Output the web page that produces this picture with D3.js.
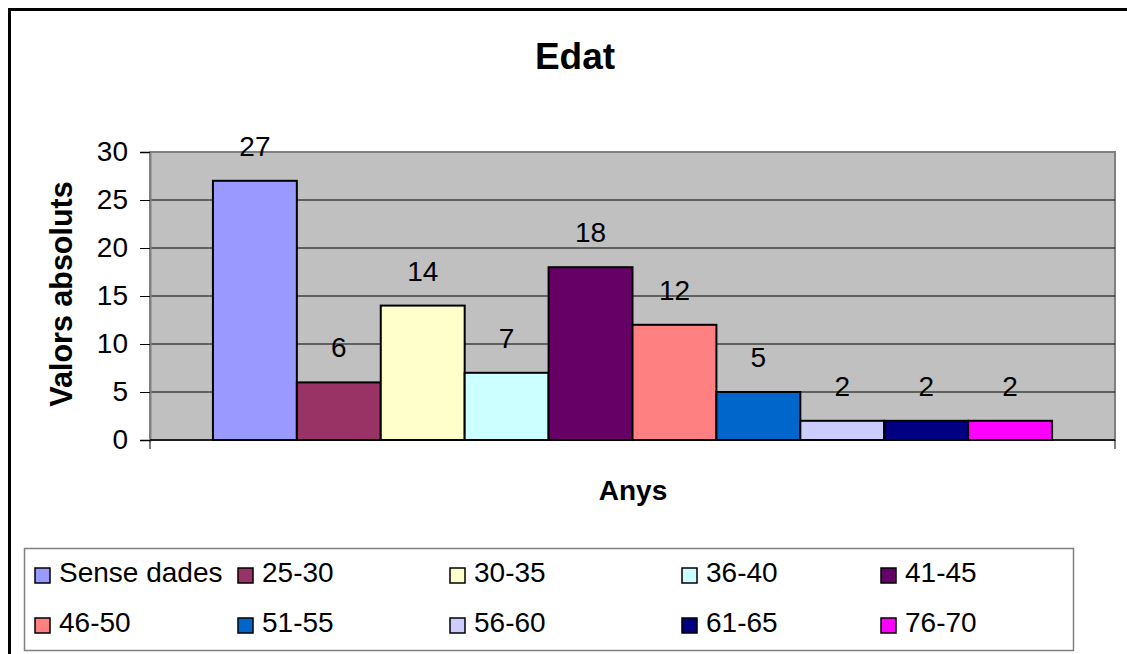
<!DOCTYPE html>
<html><head><meta charset="utf-8">
<script src="https://cdn.jsdelivr.net/npm/d3@7"></script>
<style>body{margin:0;background:#fff}svg{display:block;font-family:Arial,"Liberation Sans",sans-serif}</style>
</head><body>
<svg id="c" width="1127" height="654"></svg>
<script>
const categories = ["Sense dades","25-30","30-35","36-40","41-45","46-50","51-55","56-60","61-65","76-70"];
const values = [27,6,14,7,18,12,5,2,2,2];
const colors = ["#9999FF","#993366","#FFFFCC","#CCFFFF","#660066","#FF8080","#0066CC","#CCCCFF","#000080","#FF00FF"];
const yTicks = [0,5,10,15,20,25,30];
const title = "Edat", xTitle = "Anys", yTitle = "Valors absoluts";

const svg = d3.select("#c");
// outer chart border
svg.append("rect").attr("x",9.5).attr("y",9.5).attr("width",1130).attr("height",660)
  .attr("fill","#fff").attr("stroke","#000").attr("stroke-width",3);

const L=150,R=1115,T=152,B=440;
const x = d3.scaleBand().domain(categories).range([L,R]).paddingInner(0).paddingOuter(0.75);
const y = d3.scaleLinear().domain([0,30]).range([B,T]);

svg.append("rect").attr("x",L).attr("y",T).attr("width",R-L).attr("height",B-T)
  .attr("fill","#C0C0C0").attr("stroke","#808080").attr("stroke-width",2);

// gridlines
svg.append("g").selectAll("line").data(yTicks.filter(d=>d>0&&d<30)).join("line")
  .attr("x1",L).attr("x2",R).attr("y1",d=>y(d)).attr("y2",d=>y(d))
  .attr("stroke","#000").attr("stroke-width",1);

// y axis
const ya = svg.append("g").attr("transform",`translate(${L},0)`)
  .call(d3.axisLeft(y).tickValues(yTicks).tickSize(10).tickPadding(12));
ya.select(".domain").attr("stroke","#808080").attr("stroke-width",2);
ya.selectAll(".tick line").attr("stroke","#000");
ya.selectAll("text").attr("font-size",28).attr("fill","#000").attr("font-family","Arial, 'Liberation Sans', sans-serif");

// bars
svg.append("g").selectAll("rect").data(values).join("rect")
  .attr("x",(d,i)=>x(categories[i])).attr("y",d=>y(d))
  .attr("width",x.bandwidth()).attr("height",d=>B-y(d))
  .attr("fill",(d,i)=>colors[i]).attr("stroke","#000").attr("stroke-width",2);

// x axis line and end ticks
svg.append("line").attr("x1",L).attr("x2",R).attr("y1",B).attr("y2",B).attr("stroke","#000").attr("stroke-width",1.5);
svg.append("g").selectAll("line").data([L,R]).join("line")
  .attr("x1",d=>d).attr("x2",d=>d).attr("y1",B).attr("y2",B+9).attr("stroke","#000");

// value labels
svg.append("g").selectAll("text").data(values).join("text")
  .attr("x",(d,i)=>x(categories[i])+x.bandwidth()/2).attr("y",d=>y(d)-25)
  .attr("text-anchor","middle").attr("font-size",28).attr("fill","#000").text(d=>d);

// titles
svg.append("text").attr("x",575).attr("y",69).attr("text-anchor","middle")
  .attr("font-size",37).attr("font-weight","bold").text(title);
svg.append("text").attr("x",633).attr("y",500).attr("text-anchor","middle")
  .attr("font-size",28).attr("font-weight","bold").text(xTitle);
svg.append("text").attr("transform","translate(72,294) rotate(-90)").attr("text-anchor","middle")
  .attr("font-size",30.5).attr("font-weight","bold").text(yTitle);

// legend
svg.append("rect").attr("x",24.5).attr("y",548.5).attr("width",1049).attr("height",102)
  .attr("fill","#fff").attr("stroke","#808080").attr("stroke-width",1.5);
const colX = [35,238,450,682,881];
const rowY = [582,632];
const lg = svg.append("g").selectAll("g").data(categories).join("g")
  .attr("transform",(d,i)=>`translate(${colX[i%5]},${rowY[Math.floor(i/5)]})`);
lg.append("rect").attr("x",0).attr("y",-14).attr("width",15).attr("height",15)
  .attr("fill",(d,i)=>colors[i]).attr("stroke","#000").attr("stroke-width",1.5);
lg.append("text").attr("x",24).attr("y",0).attr("font-size",28).attr("fill","#000").text(d=>d);
</script>
</body></html>
